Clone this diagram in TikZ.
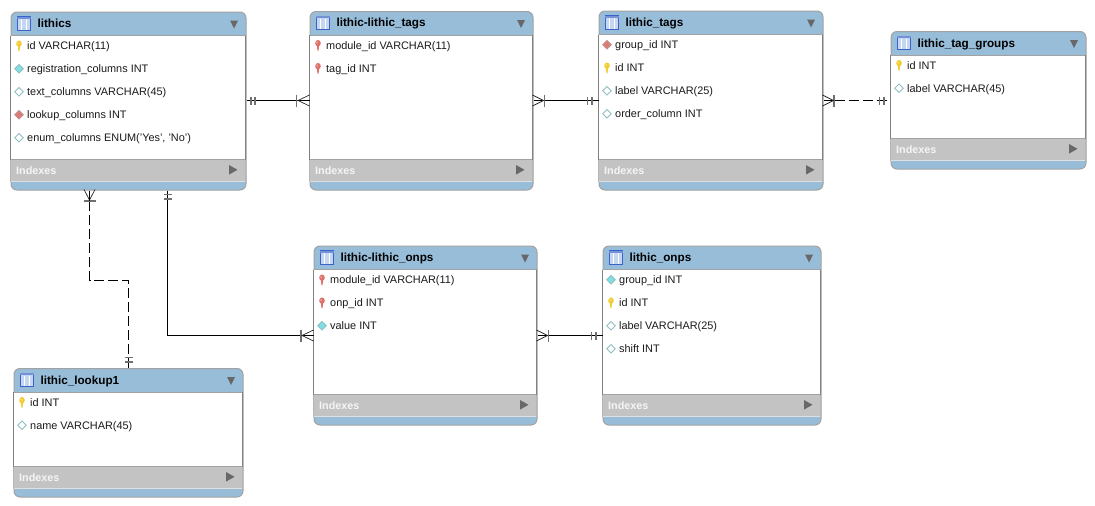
\documentclass[tikz,border=0pt]{standalone}
\usepackage{fontspec}
\setmainfont{Liberation Sans}
\definecolor{hdr}{HTML}{97BDD9}
\definecolor{idxg}{HTML}{C3C3C3}
\definecolor{edge}{HTML}{A2A2A2}
\definecolor{side}{HTML}{808080}
\definecolor{tri}{HTML}{686868}
\definecolor{tick}{HTML}{707070}
\definecolor{txtc}{HTML}{1A1A1A}
\definecolor{keyy}{HTML}{F2CC30}
\definecolor{keyr}{HTML}{DE7068}
\definecolor{dcy}{HTML}{7FE0E4}
\definecolor{dcyb}{HTML}{8FBFC4}
\definecolor{dred}{HTML}{DC7A76}
\definecolor{dredb}{HTML}{C09090}
\definecolor{icob}{HTML}{3A62C8}
\definecolor{icof}{HTML}{C4D6F2}
\tikzset{
  frame/.style={draw=edge,line width=1pt,fill=hdr,rounded corners=6pt,inner sep=0pt,anchor=north west},
  rowtext/.style={font=\fontsize{10.9}{12}\selectfont,text=txtc,anchor=base west,inner sep=0pt},
  titletext/.style={font=\bfseries\fontsize{11.7}{12}\selectfont,text=black,anchor=base west,inner sep=0pt},
  idxtext/.style={font=\bfseries\fontsize{10.8}{12}\selectfont,text=white!92!gray,anchor=base west,inner sep=0pt},
  conn/.style={draw=black,line width=1pt},
  dashconn/.style={conn,dash pattern=on 10pt off 4pt},
  tickm/.style={draw=tick,line width=1.5pt},
  foot/.style={draw=black!85,line width=0.7pt},
}
% icons: centre (x,y)
\newcommand{\icokey}[4]{%
  \fill[#3] (#1-1.1,#2-1) -- (#1+1.1,#2-1) -- (#1+0.6,#2+5.5) -- (#1-0.6,#2+5.5) -- cycle;
  \fill[#3] (#1,#2-2) ellipse (2.8 and 3.2);
  \fill[white,opacity=.4] (#1-0.9,#2-2.6) ellipse (0.8 and 1.5);}
\newcommand{\icodia}[4]{%
  \filldraw[draw=#4,fill=#3,line width=0.9pt] (#1-4.3,#2) -- (#1,#2-4.3) -- (#1+4.3,#2) -- (#1,#2+4.3) -- cycle;}
\newcommand{\rowicon}[3]{%
  \ifnum#3=1 \icokey{#1}{#2}{keyy}{}\fi
  \ifnum#3=2 \icokey{#1}{#2}{keyr}{}\fi
  \ifnum#3=3 \icodia{#1}{#2}{dcy}{dcyb}\fi
  \ifnum#3=4 \icodia{#1}{#2}{white}{dcyb}\fi
  \ifnum#3=5 \icodia{#1}{#2}{dred}{dredb}\fi}
% \tbl{name}{x0}{y0}{x1}{y1}{title}{rows}
\newcommand{\tbl}[7]{%
  \pgfmathsetmacro{\wdd}{#4-#2}\pgfmathsetmacro{\htt}{#5-#3}
  \node[frame,minimum width=\wdd pt,minimum height=\htt pt] (#1) at (#2,#3) {};
  \fill[white] (#2,#3+24) rectangle (#4,#5-30);
  \fill[idxg] (#2,#5-30) rectangle (#4,#5-8);
  \draw[edge,line width=0.8pt] (#2,#3+24) -- (#4,#3+24);
  \draw[edge,line width=0.8pt] (#2,#5-30) -- (#4,#5-30);
  \draw[white!75!gray,line width=0.6pt] (#2,#5-8.3) -- (#4,#5-8.3);
  \draw[side,line width=0.9pt] (#2,#3+24) -- (#2,#5-30) (#4,#3+24) -- (#4,#5-30);
  \draw[idxg!80!gray,line width=0.9pt] (#2,#5-30) -- (#2,#5-8) (#4,#5-30) -- (#4,#5-8);
  % table glyph
  \filldraw[draw=icob,fill=icof,line width=1pt] (#2+6.8,#3+5) rectangle (#2+20.2,#3+18.8);
  \fill[icob!70!white] (#2+6.8,#3+5) rectangle (#2+20.2,#3+7.2);
  \draw[white,line width=0.7pt] (#2+11.3,#3+7.7) -- (#2+11.3,#3+18.3) (#2+15.8,#3+7.7) -- (#2+15.8,#3+18.3);
  % title and triangles
  \node[titletext] (#1-title) at (#2+26.8,#3+16) {#6};
  \fill[tri] (#4-15.5,#3+9) -- (#4-7.5,#3+9) -- (#4-11.5,#3+17) -- cycle;
  \node[idxtext] (#1-idx) at (#2+5.5,#5-15.5) {Indexes};
  \fill[tri] (#4-16.5,#5-24.5) -- (#4-8,#5-19.7) -- (#4-16.5,#5-14.9) -- cycle;
  \foreach \ic/\txt [count=\i] in {#7}{%
    \pgfmathsetmacro{\ry}{#3+34.2+23*(\i-1)}
    \rowicon{#2+8.5}{\ry}{\ic}
    \node[rowtext] (#1-r\i) at (#2+16.5,\ry+4.1) {\txt};
  }%
}
\begin{document}
\begin{tikzpicture}[x=1pt,y=-1pt]
\useasboundingbox (0,0) rectangle (1095,506);
\fill[white] (0,0) rectangle (1095,506);
\tbl{lithics}{10.5}{11.5}{245.5}{189.5}{lithics}{1/{id VARCHAR(11)},3/{registration\_columns INT},4/{text\_columns VARCHAR(45)},5/{lookup\_columns INT},4/{enum\_columns ENUM('Yes', 'No')}}
\tbl{lltags}{309.5}{11}{532.5}{189.5}{lithic-lithic\_tags}{2/{module\_id VARCHAR(11)},2/{tag\_id INT}}
\tbl{tags}{598.5}{10.5}{822.5}{189.5}{lithic\_tags}{5/{group\_id INT},1/{id INT},4/{label VARCHAR(25)},4/{order\_column INT}}
\tbl{groups}{890.5}{31}{1085.5}{168.5}{lithic\_tag\_groups}{1/{id INT},4/{label VARCHAR(45)}}
\tbl{llonps}{313.5}{245.5}{536.5}{424.5}{lithic-lithic\_onps}{2/{module\_id VARCHAR(11)},2/{onp\_id INT},3/{value INT}}
\tbl{onps}{602.5}{245.5}{820.5}{424.5}{lithic\_onps}{3/{group\_id INT},1/{id INT},4/{label VARCHAR(25)},4/{shift INT}}
\tbl{lookup}{13.5}{368}{242.5}{496.5}{lithic\_lookup1}{1/{id INT},4/{name VARCHAR(45)}}
% lithics -- lltags
\draw[conn] (lithics.east |- 0,100.5) -- (lltags.west |- 0,100.5);
\draw[tickm] (251,96.5) -- (251,104.5) (255,96.5) -- (255,104.5) (296.5,94.5) -- (296.5,106.5);
\draw[foot] (309.5,95) -- (298,100.5) -- (309.5,106);
% lltags -- tags
\draw[conn] (lltags.east |- 0,100.5) -- (tags.west |- 0,100.5);
\draw[tickm] (587.5,96.5) -- (587.5,104.5) (592,96.5) -- (592,104.5) (544.5,94.5) -- (544.5,106.5);
\draw[foot] (532.5,95) -- (543.5,100.5) -- (532.5,106);
% tags -- groups
\coordinate (g1) at (834,100.5);
\draw[dashconn,dash phase=-1pt] (g1) -- (groups.west |- g1);
\draw[conn] (tags.east |- g1) -- (g1);
\draw[tickm] (879.5,96.5) -- (879.5,104.5) (884,96.5) -- (884,104.5) (834,94.5) -- (834,106.5);
\draw[foot] (822.5,95) -- (833.5,100.5) -- (822.5,106);
% lithics -- lookup
\coordinate (b0) at (89.5,201);
\coordinate (b1) at (89.5,280.5);
\coordinate (b2) at (128.5,280.5);
\draw[dashconn] (b0) -- (b1) -- (b2) -- (lookup.north -| b2);
\draw[tickm] (83.5,201) -- (95.5,201) (124.5,357.5) -- (132.5,357.5) (124.5,362) -- (132.5,362);
\draw[foot] (84,189.5) -- (89.5,200) -- (95,189.5);
\draw[conn] (lithics.south -| b0) -- (b0);
% lithics -- llonps
\coordinate (c1) at (167.5,335.5);
\draw[conn] (lithics.south -| c1) -- (c1) -- (llonps.west |- c1);
\draw[tickm] (163.5,194.5) -- (171.5,194.5) (163.5,199) -- (171.5,199) (301,329.5) -- (301,341.5);
\draw[foot] (313.5,330) -- (302,335.5) -- (313.5,341);
% llonps -- onps
\draw[conn] (llonps.east |- c1) -- (onps.west |- c1);
\draw[tickm] (591.5,331.5) -- (591.5,339.5) (596,331.5) -- (596,339.5) (548.5,329.5) -- (548.5,341.5);
\draw[foot] (536.5,330) -- (547.5,335.5) -- (536.5,341);
\end{tikzpicture}
\end{document}
